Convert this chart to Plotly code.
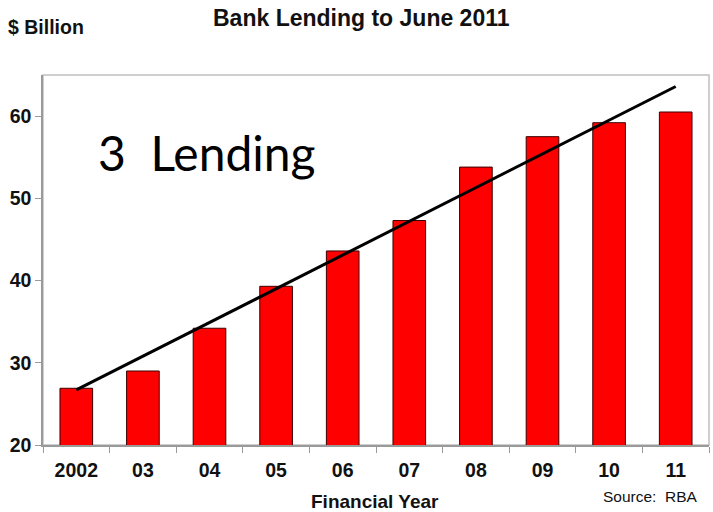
import plotly.graph_objects as go

years = ["2002", "03", "04", "05", "06", "07", "08", "09", "10", "11"]
lending = [26.9, 29.0, 34.2, 39.3, 43.6, 47.3, 53.8, 57.5, 59.2, 60.5]
trend_x = ["2002", "11"]
trend_y = [26.7, 63.6]
y_ticks = [20, 30, 40, 50, 60]

FONT = "Liberation Sans, Arial, sans-serif"

fig = go.Figure()
fig.add_trace(go.Bar(
    x=years, y=lending,
    marker=dict(color="#FF0000", line=dict(color="#3a0000", width=1)),
    width=0.49,
))
fig.add_trace(go.Scatter(
    x=trend_x, y=trend_y, mode="lines",
    line=dict(color="black", width=3),
))

fig.update_layout(
    width=713, height=512,
    margin=dict(l=43, r=4, t=75, b=67),
    paper_bgcolor="white", plot_bgcolor="white",
    showlegend=False,
    font=dict(family=FONT, color="#111"),
    xaxis=dict(
        type="category", showgrid=False, showline=True, linecolor="#9a9a9a", linewidth=1.5,
        ticks="outside", tickson="boundaries", ticklen=6, tickcolor="#9a9a9a",
        ticklabelstandoff=7,
        tickfont=dict(family=FONT, size=19.5, color="#111", weight="bold"),
    ),
    yaxis=dict(
        range=[20, 65], tickvals=y_ticks, showgrid=False, showline=True,
        linecolor="#9a9a9a", linewidth=1.5, ticks="outside", ticklen=6, tickcolor="#9a9a9a",
        tickfont=dict(family=FONT, size=19.5, color="#111", weight="bold"),
        zeroline=False,
    ),
    shapes=[dict(type="rect", xref="paper", yref="paper", x0=0, y0=0, x1=1, y1=1,
                 line=dict(color="#c0c0c0", width=1.5), layer="below")],
    annotations=[
        dict(text="<b>Bank Lending to June 2011</b>", xref="paper", yref="paper",
             x=0.4775, y=1.154, xanchor="center", yanchor="middle", showarrow=False,
             font=dict(family=FONT, size=23, color="#111")),
        dict(text="<b>$ Billion</b>", xref="paper", yref="paper",
             x=-0.0556, y=1.13, xanchor="left", yanchor="middle", showarrow=False,
             font=dict(family=FONT, size=19.5, color="#111")),
        dict(text="<b>Financial Year</b>", xref="paper", yref="paper",
             x=0.4985, y=-0.1526, xanchor="center", yanchor="middle", showarrow=False,
             font=dict(family=FONT, size=19, color="#111")),
        dict(text="Source:  RBA", xref="paper", yref="paper",
             x=0.9865, y=-0.1405, xanchor="right", yanchor="middle", showarrow=False,
             font=dict(family=FONT, size=15.5, color="#111")),
        dict(text="3  Lending", xref="paper", yref="paper",
             x=0.079, y=0.79, xanchor="left", yanchor="middle", showarrow=False,
             font=dict(family="Lato, Open Sans, sans-serif", size=48, color="black")),
    ],
)

fig.write_html("out.html")
